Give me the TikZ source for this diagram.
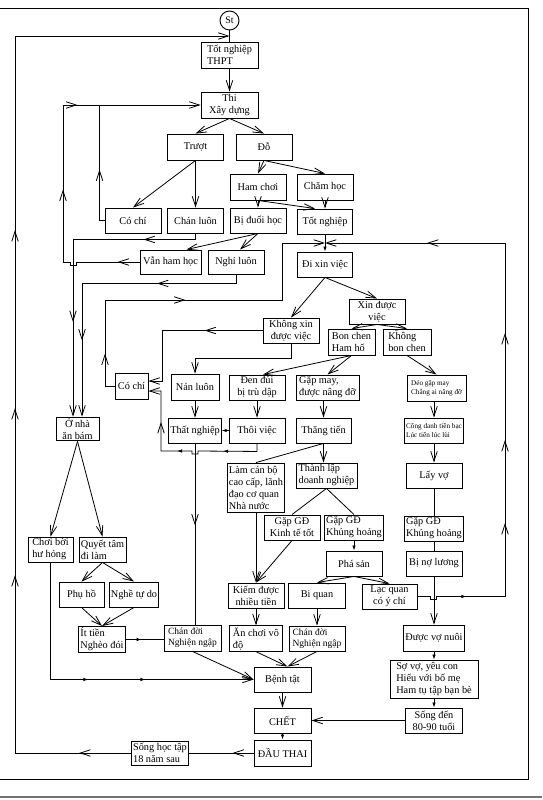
\documentclass[tikz,border=0pt]{standalone}
\usepackage{fontspec}
\setmainfont{Liberation Serif}
\usetikzlibrary{arrows.meta,calc,decorations.markings}

\begin{document}
\begin{tikzpicture}[
  x=1pt, y=-1pt, line width=0.8pt,
  box/.style={draw, rectangle, line width=0.9pt, inner sep=1.5pt,
              minimum width=56pt, minimum height=25pt, align=center,
              font=\fontsize{10.3}{12}\selectfont},
  lbox/.style={box, align=left},
  smalltxt/.style={font=\fontsize{7.2}{9}\selectfont},
  arr/.style={-{Straight Barb[length=10pt,width=6.5pt]}},
  sarr/.style={-{Latex[length=5pt,width=3.5pt]}},
  midarr/.style={postaction={decorate, decoration={markings,
      mark=at position #1 with {\arrow{Straight Barb[length=10pt,width=6.5pt]}}}}},
  smidarr/.style={postaction={decorate, decoration={markings,
      mark=at position #1 with {\arrow{Latex[length=5pt,width=3.5pt]}}}}},
]
\useasboundingbox (0,0) rectangle (542,800);

% ── Frame ───────────────────────────────────────────────────────────────
\draw[line width=0.9pt] (0,8) -- (528,8) -- (528,779) -- (0,779);
\draw[line width=2pt, black!55] (0,797) -- (542,797);

% ── Nodes ───────────────────────────────────────────────────────────────
\node[circle, draw, line width=0.9pt, minimum size=19pt, inner sep=0pt,
      font=\fontsize{10}{12}\selectfont] (st) at (229.5,20.5) {St};
\node[lbox, minimum width=57pt, minimum height=26pt] (thpt) at (229.5,55) {Tốt nghiệp\\THPT};
\node[box, minimum width=57pt, minimum height=26pt] (thi) at (229.5,105) {Thi\\Xây dựng};
\node[box, minimum height=26pt] (truot) at (195.5,147) {Trượt};
\node[box, minimum height=26pt] (dodat) at (264,147) {Đỗ};
\node[box, minimum height=26pt] (hamchoi) at (258,187) {Ham chơi};
\node[box, minimum height=26pt] (chamhoc) at (325,187) {Chăm học};

\node[box] (cochi1) at (133,220.5) {Có chí};
\node[box] (chanluon) at (195.5,220.5) {Chán luôn};
\node[box] (biduoi) at (258,220.5) {Bị đuổi học};
\node[box, minimum width=55pt] (totnghiep) at (325,221.5) {Tốt nghiệp};
\node[box, minimum width=61pt, minimum height=24pt] (vanham) at (170.5,262) {Vẫn ham học};
\node[box, minimum height=24pt] (nghiluon) at (236,262) {Nghỉ luôn};
\node[box, minimum width=55pt] (dixin) at (325,264.5) {Đi xin việc};

\node[box] (xinduoc) at (377,311.5) {Xin được\\việc};
\node[box] (khongxin) at (291,330.5) {Không xin\\được việc};
\node[lbox, minimum width=47pt, minimum height=26pt] (bonchen) at (351.5,342) {Bon chen\\Ham hố};
\node[lbox, minimum width=48pt, minimum height=26pt] (khongbon) at (407,342) {Không\\bon chen};

\node[box, minimum width=33pt, minimum height=26pt] (cochi2) at (131.5,386) {Có chí};
\node[box, minimum width=48pt, minimum height=26pt] (nanluon) at (195,387) {Nán luôn};
\node[box] (dendui) at (257,387.5) {Đen đủi\\bị trù dập};
\node[lbox, minimum width=63pt] (gapmay) at (327.5,387.5) {Gặp may,\\được nâng đỡ};
\node[lbox, smalltxt, minimum width=59pt, minimum height=26pt] (deo) at (436.5,388) {Déo gặp may\\Chẳng ai nâng đỡ};

\node[box, minimum width=43pt, minimum height=22pt] (onha) at (77.5,429) {Ở nhà\\ăn bám};
\node[box, minimum width=49pt] (thatnghiep) at (195,430.5) {Thất nghiệp};
\node[box] (thoiviec) at (257,430.5) {Thôi việc};
\node[box, minimum width=55pt] (thangtien) at (323.5,430.5) {Thăng tiến};
\node[lbox, smalltxt, minimum width=59pt] (congdanh) at (434,430.5) {Công danh tiền bạc\\Lúc tiến lúc lùi};

\node[lbox, minimum width=54pt, minimum height=49pt] (lamcanbo) at (256,487.5)
  {Làm cán bộ\\cao cấp, lãnh\\đạo cơ quan\\Nhà nước};
\node[lbox, minimum width=61pt] (thanhlap) at (326.5,475.5) {Thành lập\\doanh nghiệp};
\node[box] (layvo) at (434,475.5) {Lấy vợ};

\node[box] (gapgd1) at (292,527.5) {Gặp GĐ\\Kinh tế tốt};
\node[lbox] (gapgd2) at (354,527.5) {Gặp GĐ\\Khủng hoảng};
\node[lbox] (gapgd3) at (434,528.5) {Gặp GĐ\\Khủng hoảng};
\node[lbox, minimum width=45pt] (choiboi) at (50.5,549.5) {Chơi bời\\hư hỏng};
\node[lbox, minimum width=47pt] (quyettam) at (102.5,549.5) {Quyết tâm\\đi làm};
\node[box] (phasan) at (354,563.5) {Phá sản};
\node[box] (bino) at (434,563.5) {Bị nợ lương};

\node[box, minimum width=45pt] (phuho) at (81.5,594.5) {Phụ hồ};
\node[box, minimum width=46pt] (nghetudo) at (134,594.5) {Nghề tự do};
\node[box] (kiemduoc) at (256,595.5) {Kiếm được\\nhiều tiền};
\node[box, minimum width=57pt] (biquan) at (317,595.5) {Bi quan};
\node[box, minimum width=55pt] (lacquan) at (389.5,596.5) {Lạc quan\\có ý chí};

\node[lbox, minimum width=46pt] (ittien) at (102,639.5) {Ít tiền\\Nghèo đói};
\node[lbox, minimum width=57pt, minimum height=26pt,
      font=\fontsize{9.5}{11}\selectfont] (chandoi1) at (192.5,638) {Chán đời\\Nghiện ngập};
\node[lbox, minimum width=53pt] (anchoi) at (256,638.5) {Ăn chơi vô\\độ};
\node[lbox, font=\fontsize{9.5}{11}\selectfont] (chandoi2) at (317,638.5) {Chán đời\\Nghiện ngập};
\node[box, minimum width=61pt, minimum height=26pt] (duocvo) at (434,638) {Được vợ nuôi};

\node[box, minimum width=57pt] (benhtat) at (282.5,679.5) {Bệnh tật};
\node[lbox, minimum width=88pt, minimum height=38pt] (sovo) at (434,679)
  {Sợ vợ, yêu con\\Hiếu với bố mẹ\\Ham tụ tập bạn bè};
\node[box, minimum width=57pt] (chet) at (282.5,720.5) {CHẾT};
\node[box, minimum width=57pt] (songden) at (434,720.5) {Sống đến\\80-90 tuổi};
\node[box, minimum width=57pt, minimum height=26pt] (dauthai) at (282.5,753) {ĐẦU THAI};
\node[lbox, minimum height=24pt] (songhoc) at (160,753) {Sống học tập\\18 năm sau};

\coordinate (jtop) at (229.5,36);
\coordinate (jx) at (325,243);

% ── Edges (main flow) ───────────────────────────────────────────────────
\draw (st) -- (thpt);
\draw[arr] (thpt) -- (thi);
\draw[arr] (thi.south) -- (truot.north);
\draw[arr] (thi.south) -- (dodat.north);
\draw[arr] (dodat.south) -- (hamchoi.north);
\draw[arr] (dodat.south) -- (chamhoc.north);
\draw[arr] (truot.south) -- (cochi1.north);
\draw[arr] (truot.south) -- (chanluon.north);
\draw[arr] (hamchoi.south) -- (biduoi.north);
\draw[arr] (hamchoi.south) -- ($(totnghiep.north)+(-10,0)$);
\draw[arr] (chamhoc) -- (totnghiep);
\draw[arr] (biduoi.south) -- ($(vanham.north)+(16,0)$);
\draw[arr] (biduoi.south) -- ($(nghiluon.north)+(4,0)$);
\draw[sarr] (totnghiep) -- (dixin);
\draw[arr] (dixin.south) -- (khongxin.north);
\draw[arr] (dixin.south) -- (xinduoc.north);
\draw[arr] (xinduoc.south) -- (bonchen.north);
\draw[arr] (xinduoc.south) -- (khongbon.north);
\draw[arr] (bonchen.south) -- ($(dendui.north)+(6,0)$);
\draw[arr] (bonchen.south) -- (gapmay.north);
\draw[arr] (khongbon.south) -- (deo.north);
\draw[arr] (congdanh.north |- deo.south) -- (congdanh.north);
\draw[arr] (congdanh) -- (layvo);
\draw (layvo) -- (gapgd3);
\draw (gapgd3) -- (bino);
\draw[arr] (bino) -- (duocvo);
\draw[sarr] (duocvo) -- (sovo);
\draw[sarr] (sovo) -- (songden);
\draw[arr] (songden) -- (chet);

\draw[arr] (thangtien.north |- gapmay.south) -- (thangtien.north);
\draw[arr] (dendui) -- (thoiviec);
\draw[arr] (nanluon) -- (thatnghiep);
\draw[sarr] (thoiviec) -- (thatnghiep);
\draw[arr] (thangtien.south) -- (thangtien.south |- thanhlap.north);
\draw (thangtien.south) -- (lamcanbo.north);
\draw (thanhlap.south) -- (gapgd1.north);
\draw (thanhlap.south) -- (gapgd2.north);
\draw[sarr] (gapgd2) -- (phasan);
\draw[arr] (phasan.south) -- (biquan.north);
\draw[arr] (phasan.south) -- (lacquan.north);
\draw[arr] (lamcanbo) -- (kiemduoc);
\draw[arr] (gapgd1.south) -- (kiemduoc.north);
\draw[arr] (kiemduoc) -- (anchoi);
\draw[arr] (biquan) -- (chandoi2);
\draw[arr] (anchoi.south) -- ($(benhtat.north)+(5,0)$);
\draw[arr] (chandoi2.south) -- ($(benhtat.north)+(5,0)$);
\draw[arr] (chandoi1.south) -- (benhtat.west);
\draw[arr] (benhtat) -- (chet);
\draw[sarr] (chet) -- (dauthai);

\draw[arr] (onha.south) -- (choiboi.north);
\draw[arr] (onha.south) -- (quyettam.north);
\draw[arr] (quyettam.south) -- (phuho.north);
\draw[arr] (quyettam.south) -- (nghetudo.north);
\draw[arr] (phuho.south) -- (ittien.north);
\draw[arr] (nghetudo.south) -- (ittien.north);
\draw[smidarr=16pt] (ittien.east) -- (ittien.east -| chandoi1.west);
\draw[arr, smidarr=155pt, smidarr=212pt] (choiboi.south) |- (benhtat.west);

% ── Loops back ──────────────────────────────────────────────────────────
\draw[arr, midarr=56pt] (cochi1.west) -- ++(-5,0) |- (thi.west);
\draw[midarr=22pt, midarr=155pt, midarr=254pt]
  (vanham.west) -- (76,262) -- ++(0,3) -- ++(-6,0) -- ++(0,-3)
  -- (63,262) -- (63,105) -- (100,105);
\draw[arr, midarr=58pt, midarr=211pt]
  (chanluon.south) -- ++(0,6) -| ($(onha.north)+(-4.5,0)$);
\draw[arr, midarr=88pt, midarr=220pt]
  (nghiluon.south) -- ++(0,9) -| ($(onha.north)+(4.5,0)$);

\draw[arr, midarr=58pt] (khongxin.west) -- (162,330.5) |- ($(cochi2.east)+(0,-5)$);
\draw[arr] (khongxin.south) -- ++(0,15) -| (nanluon.north);
\draw[arr, smidarr=42pt, smidarr=94pt, midarr=139pt]
  (thoiviec.south) -- ++(0,8) -- (198,451) -- ++(0,3) -- ++(-6,0) -- ++(0,-3)
  -- (161,451) |- ($(cochi2.east)+(0,5)$);
\draw[midarr=82pt] (thatnghiep.south) -- (thatnghiep.south |- chandoi1.north);
\draw[arr, midarr=42pt, midarr=176pt]
  (cochi2.west) -- (105,386) -- (105,300) -- (282,300) -- (282,243) -- (jx);
\draw[arr, smidarr=55pt, midarr=167pt, midarr=250pt, midarr=357pt, midarr=525pt]
  (lacquan.east) -- (430,596.5) -- ++(0,3) -- ++(6,0) -- ++(0,-3)
  -- (505,596.5) -- (505,243) -- (jx);

\draw[midarr=21pt] (dauthai.west) -- (songhoc.east);
\draw[arr, midarr=52pt, midarr=294pt, midarr=461pt, midarr=639pt]
  (songhoc.west) -- (15,753) -- (15,36) -- (jtop);

\end{tikzpicture}
\end{document}
